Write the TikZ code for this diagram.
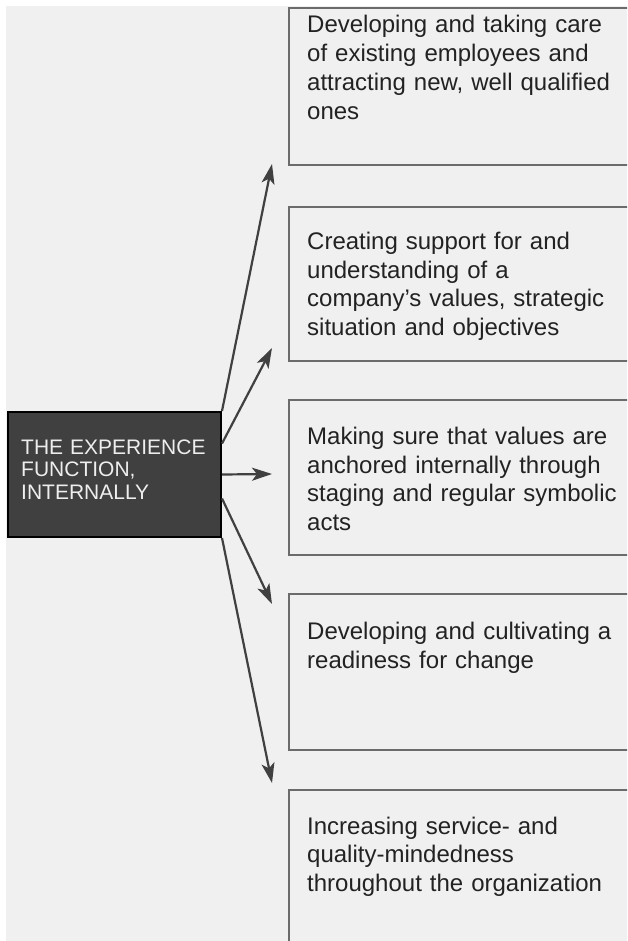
\documentclass[tikz,border=0pt]{standalone}
\usepackage{fontspec}
\setmainfont{Liberation Sans}
\usetikzlibrary{arrows.meta,calc}
\definecolor{bgc}{HTML}{F0F0F0}
\definecolor{boxc}{HTML}{6B6B6B}
\definecolor{corec}{HTML}{404040}
\definecolor{arrc}{HTML}{404040}
\definecolor{txtc}{HTML}{222222}
\definecolor{ctxtc}{HTML}{EEEEEE}
\begin{document}
\begin{tikzpicture}[x=1pt,y=-1pt,
  rbox/.style={anchor=north west, draw=boxc, line width=2pt, minimum width=420pt, inner sep=0pt, fill=bgc},
  rtext/.style={anchor=base west, text width=330pt, align=left, inner sep=0pt, text=txtc, font=\fontsize{24}{28.7}\selectfont},
  corebox/.style={anchor=north west, minimum width=213pt, minimum height=125pt, inner sep=0pt, fill=corec, draw=black, line width=2pt},
  ctext/.style={anchor=base west, text width=200pt, align=left, inner sep=0pt, text=ctxtc, font=\fontsize{21}{22.7}\selectfont},
  arr/.style={draw=arrc, line width=2.2pt, -{Stealth[length=20pt,width=13pt,inset=5pt]}}
]
\useasboundingbox (0,0) rectangle (627,941);
\clip (0,0) rectangle (627,941);
\fill[white] (0,0) rectangle (627,941);
\fill[bgc] (6,6) rectangle (627,941);

% right boxes
\node[rbox, minimum height=157pt] (b1) at (288,7) {};
\node[rbox, minimum height=154pt] (b2) at (288,206) {};
\node[rbox, minimum height=155pt] (b3) at (288,399) {};
\node[rbox, minimum height=156pt] (b4) at (288,593) {};
\node[rbox, minimum height=211pt] (b5) at (288,789) {};

\node[rtext] (t1) at (307,33) {Developing and taking care\\of existing employees and\\attracting new, well qualified\\ones};
\node[rtext] (t2) at (307,249.5) {Creating support for and\\understanding of a\\company’s values, strategic\\situation and objectives};
\node[rtext] (t3) at (307,444.5) {Making sure that values are\\anchored internally through\\staging and regular symbolic\\acts};
\node[rtext] (t4) at (307,639.5) {Developing and cultivating a\\readiness for change};
\node[rtext] (t5) at (307,834) {Increasing service- and\\quality-mindedness\\throughout the organization};

% central box
\node[corebox] (core) at (7,411) {};
\node[ctext] (ct) at (21,454) {THE EXPERIENCE\\FUNCTION,\\INTERNALLY};

% arrow tips
\coordinate (tip1) at (272,164);
\coordinate (tip2) at (272,348);
\coordinate (tip3) at (272,474);
\coordinate (tip4) at (272,604);
\coordinate (tip5) at (272,783);

\draw[arr] (core.north east) -- (tip1);
\draw[arr] ($(core.east)+(0,-31)$) -- (tip2);
\draw[arr] (core.east) -- (tip3);
\draw[arr] ($(core.east)+(0,24)$) -- (tip4);
\draw[arr] (core.south east) -- (tip5);
\end{tikzpicture}
\end{document}
